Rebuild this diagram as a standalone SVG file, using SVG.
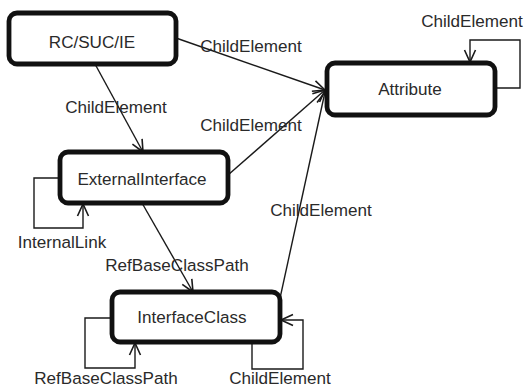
<svg xmlns="http://www.w3.org/2000/svg" width="527" height="387" viewBox="0 0 527 387">
<defs>
<marker id="arr" markerUnits="userSpaceOnUse" markerWidth="16" markerHeight="14" refX="13" refY="7" orient="auto" overflow="visible">
<path d="M1,1.5 L13,7 L1,12.5" fill="none" stroke="#1a1a1a" stroke-width="1.6"/>
</marker>
</defs>
<style>
.box{fill:#fff;stroke:#111;stroke-width:4.8}
.lbl{font-family:"Liberation Sans",Arial,sans-serif;font-size:17.1px;fill:#2a2a2a;text-anchor:middle}
.con{fill:none;stroke:#1a1a1a;stroke-width:1.4;marker-end:url(#arr)}
</style>
<rect width="527" height="387" fill="#fff"/>
<g id="connectors">
<path class="con" d="M176,38 L325,90"/>
<path class="con" d="M95,64 L143,152"/>
<path class="con" d="M228,175 L325,90"/>
<path class="con" d="M277,312 L325,92"/>
<path class="con" d="M142,203 L193,292"/>
<path class="con" d="M495,88 L520,88 L520,40 L470,40 L470,62"/>
<path class="con" d="M60,178 L34,178 L34,228 L83,228 L83,204"/>
<path class="con" d="M112,318 L85,318 L85,368 L135,368 L135,343"/>
<path class="con" d="M252,342 L252,369 L303,369 L303,320 L281,320"/>
<text class="lbl" x="251" y="52">ChildElement</text>
<text class="lbl" x="116" y="113">ChildElement</text>
<text class="lbl" x="251" y="131">ChildElement</text>
<text class="lbl" x="321" y="216">ChildElement</text>
<text class="lbl" x="472" y="27">ChildElement</text>
<text class="lbl" x="62" y="248">InternalLink</text>
<text class="lbl" x="177" y="271">RefBaseClassPath</text>
<text class="lbl" x="106" y="384">RefBaseClassPath</text>
<text class="lbl" x="280" y="384">ChildElement</text>
</g>
<g id="rcsucie">
<rect class="box" x="9" y="13" width="167" height="51" rx="8"/>
<text class="lbl" x="92" y="48">RC/SUC/IE</text>
</g>
<g id="attribute">
<rect class="box" x="327" y="63" width="168" height="52" rx="8"/>
<text class="lbl" x="410" y="95">Attribute</text>
</g>
<g id="externalinterface">
<rect class="box" x="60" y="152" width="168" height="51" rx="8"/>
<text class="lbl" x="142" y="185">ExternalInterface</text>
</g>
<g id="interfaceclass">
<rect class="box" x="112" y="292" width="168" height="50" rx="8"/>
<text class="lbl" x="192" y="323">InterfaceClass</text>
</g>
</svg>
